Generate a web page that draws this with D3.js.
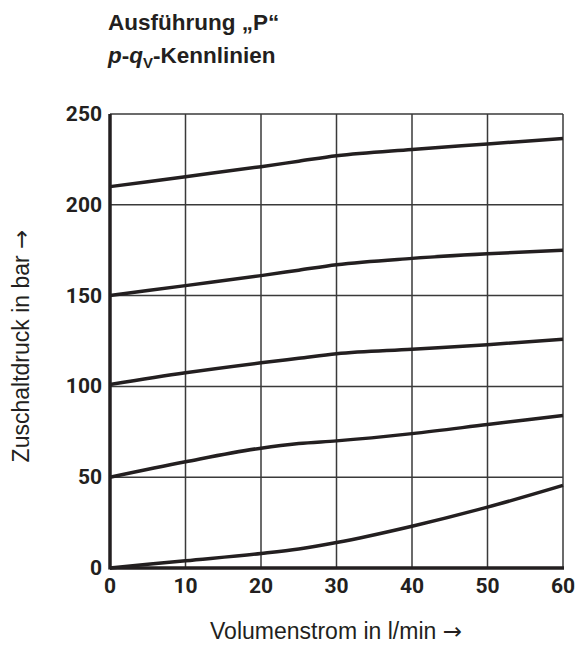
<!DOCTYPE html>
<html>
<head>
<meta charset="utf-8">
<script src="https://cdn.jsdelivr.net/npm/d3@7"></script>
<style>
  body { margin: 0; background: #fff; }
  .tick-label { font-family: Roboto, "Liberation Sans", sans-serif; font-weight: bold; font-size: 21px; fill: #231f20; }
  .axis-title { font-family: "Liberation Sans", Arial, sans-serif; font-size: 23px; fill: #231f20; }
  .arrow { font-family: "DejaVu Sans", sans-serif; }
  .title { font-family: "Liberation Sans", Arial, sans-serif; font-weight: bold; font-size: 22.5px; fill: #231f20; }
</style>
</head>
<body>
<div id="chart"></div>
<script>
var flow = [0, 10, 20, 25, 30, 40, 50, 60];
var curve250 = [210, 215.5, 221, 224, 227, 230.5, 233.5, 236.5];
var curve175 = [150, 155.5, 161, 164, 167, 170.5, 173, 175];
var curve125 = [101, 107.5, 113, 115.5, 118, 120.5, 123, 126];
var curve85 = [50, 58.5, 66, 68.5, 70, 74, 79, 84];
var curve45 = [0, 4, 8, 10.5, 14, 23, 33.5, 45.5];
var xTicks = [0, 10, 20, 30, 40, 50, 60];
var yTicks = [0, 50, 100, 150, 200, 250];

var width = 577, height = 646;
var margin = { top: 114, right: 14, bottom: 78, left: 110 };

var svg = d3.select("#chart")
    .append("svg")
    .attr("width", width)
    .attr("height", height);

var x = d3.scaleLinear().domain([0, 60]).range([margin.left, width - margin.right]);
var y = d3.scaleLinear().domain([0, 250]).range([height - margin.bottom, margin.top]);

// grid
svg.append("g").selectAll("line")
    .data(xTicks.slice(1))
    .enter().append("line")
    .attr("x1", function(d) { return x(d); })
    .attr("x2", function(d) { return x(d); })
    .attr("y1", y(0))
    .attr("y2", y(250))
    .attr("stroke", "#3a3a3a")
    .attr("stroke-width", 1.5);

svg.append("g").selectAll("line")
    .data(yTicks.slice(1))
    .enter().append("line")
    .attr("x1", x(0))
    .attr("x2", x(60))
    .attr("y1", function(d) { return y(d); })
    .attr("y2", function(d) { return y(d); })
    .attr("stroke", "#3a3a3a")
    .attr("stroke-width", 1.5);

// main axes lines
svg.append("line")
    .attr("x1", x(0)).attr("x2", x(0))
    .attr("y1", y(0) + 1.5).attr("y2", y(250))
    .attr("stroke", "#231f20").attr("stroke-width", 3.5);
svg.append("line")
    .attr("x1", x(0)).attr("x2", x(60) + 1)
    .attr("y1", y(0)).attr("y2", y(0))
    .attr("stroke", "#231f20").attr("stroke-width", 3.5);

// tick labels
svg.append("g").selectAll("text")
    .data(xTicks)
    .enter().append("text")
    .attr("class", "tick-label")
    .attr("x", function(d) { return x(d); })
    .attr("y", y(0) + 25)
    .attr("text-anchor", "middle")
    .text(function(d) { return d; });

svg.append("g").selectAll("text")
    .data(yTicks)
    .enter().append("text")
    .attr("class", "tick-label")
    .attr("x", x(0) - 8)
    .attr("y", function(d) { return y(d) + 7; })
    .attr("text-anchor", "end")
    .text(function(d) { return d; });

// curves
var line = d3.line()
    .x(function(d, i) { return x(flow[i]); })
    .y(function(d) { return y(d); })
    .curve(d3.curveMonotoneX);

[curve250, curve175, curve125, curve85, curve45].forEach(function(c) {
    svg.append("path")
        .attr("d", line(c))
        .attr("fill", "none")
        .attr("stroke", "#231f20")
        .attr("stroke-width", 3.5);
});

// axis titles
var xt = svg.append("text")
    .attr("class", "axis-title")
    .attr("x", 336)
    .attr("y", 639)
    .attr("text-anchor", "middle");
xt.append("tspan").text("Volumenstrom in l/min ");
xt.append("tspan").attr("class", "arrow").text("\u2192");

var yt = svg.append("text")
    .attr("class", "axis-title")
    .attr("transform", "translate(29,346) rotate(-90)")
    .attr("text-anchor", "middle");
yt.append("tspan").text("Zuschaltdruck in bar ");
yt.append("tspan").attr("class", "arrow").text("\u2192");

// title
svg.append("text")
    .attr("class", "title")
    .attr("x", 108)
    .attr("y", 30)
    .text("Ausführung \u201eP\u201c");

var t2 = svg.append("text")
    .attr("class", "title")
    .attr("x", 108)
    .attr("y", 63);
t2.append("tspan").attr("font-style", "italic").text("p");
t2.append("tspan").text("-");
t2.append("tspan").attr("font-style", "italic").text("q");
t2.append("tspan").attr("font-size", "15px").attr("dy", 5).text("V");
t2.append("tspan").attr("dy", -5).text("-Kennlinien");
</script>
</body>
</html>
